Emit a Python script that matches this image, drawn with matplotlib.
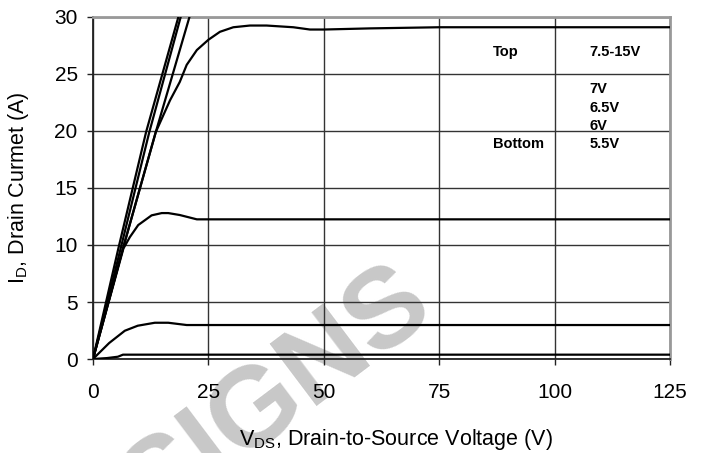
import matplotlib
matplotlib.use("Agg")
import matplotlib.pyplot as plt

plt.rcParams['font.family'] = ['Liberation Sans', 'DejaVu Sans']

# VGS = 7.5..15 V (three near-linear traces)
vds_15v = [0, 5.5, 11.5, 18.5, 20]
id_15v = [0, 9.7, 19.9, 30, 32.4]
vds_10v = [0, 6.0, 12.2, 19.0, 20.5]
id_10v = [0, 9.7, 19.9, 30, 32.4]
vds_75v = [0, 6.5, 13.6, 20.9, 22]
id_75v = [0, 9.7, 19.9, 30, 31.6]

# VGS = 7 V
vds_7v = [0, 6.5, 13.6, 16.7, 18.8, 20.3, 22.5, 25, 27.5, 30.4, 34, 37.6, 43.4, 47, 50, 60, 75, 125]
id_7v = [0, 9.7, 19.9, 22.7, 24.3, 25.8, 27.1, 28.0, 28.7, 29.1, 29.25, 29.25, 29.1, 28.9, 28.9, 29.0, 29.1, 29.1]

# VGS = 6.5 V
vds_65v = [0, 3.4, 6.6, 8.0, 9.8, 12.7, 14.9, 16.3, 18.8, 22.5, 125]
id_65v = [0, 5.0, 9.7, 10.7, 11.75, 12.6, 12.8, 12.8, 12.63, 12.25, 12.25]

# VGS = 6 V
vds_6v = [0, 3.5, 6.9, 9.7, 13.4, 16.3, 20.3, 125]
id_6v = [0, 1.4, 2.48, 2.92, 3.18, 3.18, 2.98, 2.98]

# VGS = 5.5 V
vds_55v = [0, 3.0, 5.4, 6.5, 125]
id_55v = [0, 0.08, 0.2, 0.38, 0.38]

x_ticks = [0, 25, 50, 75, 100, 125]
y_ticks = [0, 5, 10, 15, 20, 25, 30]

fig = plt.figure(figsize=(7.06, 4.53), dpi=100)
ax = fig.add_axes([0.1317, 0.2075, 0.8173, 0.755])

for x, y in [(vds_15v, id_15v), (vds_10v, id_10v), (vds_75v, id_75v),
             (vds_7v, id_7v), (vds_65v, id_65v), (vds_6v, id_6v), (vds_55v, id_55v)]:
    ax.plot(x, y, color='black', lw=1.6, zorder=3, solid_joinstyle='round')

ax.set_xlim(0, 125)
ax.set_ylim(0, 30)
ax.set_xticks(x_ticks)
ax.set_yticks(y_ticks)
ax.grid(True, color='#333333', lw=1.0, zorder=1)
ax.set_axisbelow(True)

for side in ['left', 'bottom']:
    ax.spines[side].set_color('#222222')
    ax.spines[side].set_linewidth(1.3)
for side in ['top', 'right']:
    ax.spines[side].set_color('#999999')
    ax.spines[side].set_linewidth(2.0)

ax.tick_params(axis='both', direction='out', length=4, width=1.0,
               color='#222222', labelsize=15)
ax.tick_params(axis='x', pad=13)
ax.tick_params(axis='y', pad=7)

ax.set_xlabel(r'V$_\mathregular{DS}$, Drain-to-Source Voltage (V)', fontsize=15.5)
ax.set_ylabel(r'I$_\mathregular{D}$, Drain Curmet (A)', fontsize=15.5)
ax.xaxis.set_label_coords(0.525, -0.20)
ax.yaxis.set_label_coords(-0.108, 0.5)

# legend text sitting on the grid
lg = dict(fontsize=10.5, fontweight='bold', va='center')
ax.text(86.6, 26.9, 'Top', **lg)
ax.text(107.5, 26.9, '7.5-15V', **lg)
ax.text(107.5, 23.7, '7V', **lg)
ax.text(107.5, 22.05, '6.5V', **lg)
ax.text(107.5, 20.4, '6V', **lg)
ax.text(86.6, 18.85, 'Bottom', **lg)
ax.text(107.5, 18.85, '5.5V', **lg)

# watermark, behind grid and curves
ax.text(278 / 706, 1 - 396 / 453, 'SIGNS', transform=fig.transFigure,
        fontsize=82, fontweight='bold', color='#c8c8c8', rotation=37,
        ha='center', va='center', zorder=0.2, clip_on=False)

fig.savefig('out.png', dpi=100)
